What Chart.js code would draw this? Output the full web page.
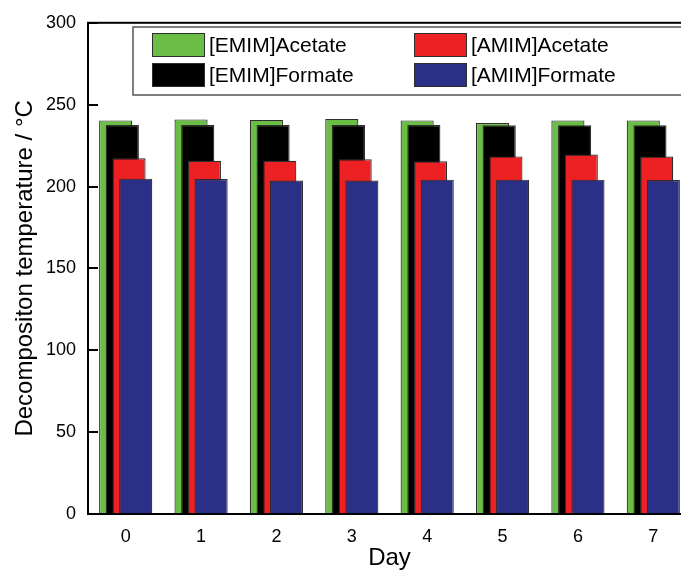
<!DOCTYPE html>
<html>
<head>
<meta charset="utf-8">
<script src="https://cdn.jsdelivr.net/npm/chart.js@4/dist/chart.umd.min.js"></script>
<style>
  html, body { margin: 0; padding: 0; background: #fff; overflow: hidden; }
  #wrap { width: 700px; height: 573px; }
</style>
</head>
<body>
<div id="wrap"><canvas id="decompChart"></canvas></div>
<script>
const days = ["0", "1", "2", "3", "4", "5", "6", "7"];
const emimAcetate = [240.4, 241.0, 240.7, 241.3, 240.4, 238.8, 240.4, 240.4];
const emimFormate = [237.6, 237.6, 237.6, 237.6, 237.6, 237.4, 237.5, 237.5];
const amimAcetate = [217.3, 215.7, 215.7, 216.7, 215.4, 218.4, 219.6, 218.3];
const amimFormate = [204.8, 204.6, 203.7, 203.7, 204.2, 204.2, 204.2, 204.0];
const yTicks = [0, 50, 100, 150, 200, 250, 300];

const FONT = "'Liberation Sans', Arial, sans-serif";
const OUTLINE = "#2e2e2e";

function series(label, data, colour) {
  return {
    label: label,
    data: data,
    backgroundColor: colour,
    borderColor: OUTLINE,
    borderWidth: 1.2,
    borderSkipped: "bottom",
  };
}

// bars overlap inside each day, so paint them left to right (last on top)
const forwardDrawOrder = {
  id: "forwardDrawOrder",
  beforeDatasetsDraw(chart) {
    const { ctx, chartArea } = chart;
    ctx.save();
    ctx.beginPath();
    ctx.rect(chartArea.left, chartArea.top, chartArea.width, chartArea.height);
    ctx.clip();
    chart.getSortedVisibleDatasetMetas().forEach((meta) => meta.controller.draw());
    ctx.restore();
    return false;
  },
};

// boxed frame with inward ticks, plus the two-column key
const frameAndKey = {
  id: "frameAndKey",
  afterDraw(chart) {
    const { ctx, chartArea } = chart;
    const { left, right, top, bottom } = chartArea;
    const y = chart.scales.y;

    ctx.save();
    ctx.strokeStyle = "#000";
    ctx.lineWidth = 2;
    ctx.strokeRect(left, top, right - left, bottom - top);
    yTicks.forEach((v) => {
      const py = Math.round(y.getPixelForValue(v));
      ctx.beginPath();
      ctx.moveTo(left, py);
      ctx.lineTo(left + 10, py);
      ctx.moveTo(right, py);
      ctx.lineTo(right - 10, py);
      ctx.stroke();
    });

    // key
    const boxL = 133, boxT = 27, boxR = 690, boxB = 95;
    ctx.fillStyle = "#fff";
    ctx.fillRect(boxL, boxT, boxR - boxL, boxB - boxT);
    ctx.strokeStyle = "#555";
    ctx.lineWidth = 1.5;
    ctx.strokeRect(boxL, boxT, boxR - boxL, boxB - boxT);

    const cols = [152, 414];
    const rows = [45, 75];
    ctx.font = "21px " + FONT;
    ctx.textBaseline = "middle";
    ctx.textAlign = "left";
    chart.data.datasets.forEach((ds, i) => {
      const cx = cols[Math.floor(i / 2)];
      const cy = rows[i % 2];
      ctx.fillStyle = ds.backgroundColor;
      ctx.fillRect(cx, cy - 12, 53, 24);
      ctx.strokeStyle = OUTLINE;
      ctx.lineWidth = 1;
      ctx.strokeRect(cx + 0.5, cy - 11.5, 52, 23);
      ctx.fillStyle = "#000";
      ctx.fillText(ds.label, cx + 57, cy + 1);
    });
    ctx.restore();
  },
};

new Chart(document.getElementById("decompChart"), {
  type: "bar",
  data: {
    labels: days,
    datasets: [
      series("[EMIM]Acetate", emimAcetate, "#6abd45"),
      series("[EMIM]Formate", emimFormate, "#000000"),
      series("[AMIM]Acetate", amimAcetate, "#ed2024"),
      series("[AMIM]Formate", amimFormate, "#2b3087"),
    ],
  },
  options: {
    responsive: true,
    maintainAspectRatio: false,
    animation: false,
    events: [],
    categoryPercentage: 0.355,
    barPercentage: 4.95,
    layout: { padding: { left: 11, right: 9, top: 21, bottom: 0 } },
    plugins: {
      legend: { display: false },
      tooltip: { enabled: false },
    },
    scales: {
      x: {
        offset: true,
        grid: { display: false, drawTicks: false },
        border: { display: false },
        ticks: {
          color: "#000",
          padding: 12,
          font: { family: FONT, size: 18 },
        },
        title: {
          display: true,
          text: "Day",
          color: "#000",
          padding: { top: 0, bottom: 0 },
          font: { family: FONT, size: 24 },
        },
        afterFit(scale) { scale.height = 59; },
      },
      y: {
        min: 0,
        max: 300,
        grid: { display: false, drawTicks: false },
        border: { display: false },
        afterBuildTicks(scale) { scale.ticks = yTicks.map((v) => ({ value: v })); },
        ticks: {
          color: "#000",
          padding: 12,
          font: { family: FONT, size: 18 },
        },
        title: {
          display: true,
          text: "Decompositon temperature / °C",
          color: "#000",
          padding: { top: 0, bottom: 0 },
          font: { family: FONT, size: 24 },
        },
        afterFit(scale) { scale.width = 77; },
      },
    },
  },
  plugins: [forwardDrawOrder, frameAndKey],
});
</script>
</body>
</html>
